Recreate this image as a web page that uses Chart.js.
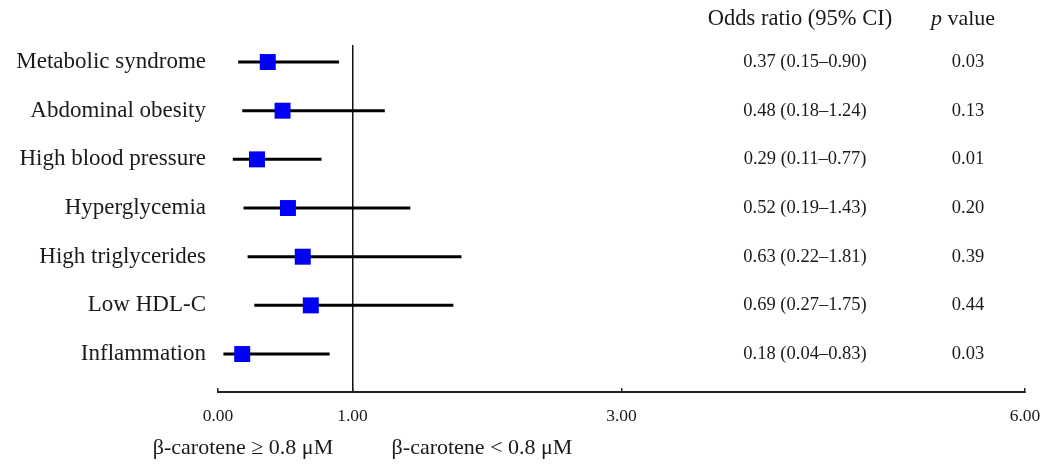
<!DOCTYPE html>
<html>
<head>
<meta charset="utf-8">
<script src="https://cdn.jsdelivr.net/npm/chart.js@4.4.1/dist/chart.umd.min.js"></script>
<style>
  html, body { margin: 0; padding: 0; background: #fff; }
  #wrap { width: 1046px; height: 464px; position: relative; }
</style>
</head>
<body>
<div id="wrap"><canvas id="forest" width="1046" height="464"></canvas></div>
<script>
// Forest plot: odds ratios of metabolic outcomes, beta-carotene groups.

const CATEGORIES = [
  "Metabolic syndrome",
  "Abdominal obesity",
  "High blood pressure",
  "Hyperglycemia",
  "High triglycerides",
  "Low HDL-C",
  "Inflammation",
];
const OR_VALUES = [0.37, 0.48, 0.29, 0.52, 0.63, 0.69, 0.18];
const CI_LOW    = [0.15, 0.18, 0.11, 0.19, 0.22, 0.27, 0.04];
const CI_HIGH   = [0.90, 1.24, 0.77, 1.43, 1.81, 1.75, 0.83];
const P_VALUES  = ["0.03", "0.13", "0.01", "0.20", "0.39", "0.44", "0.03"];
const X_TICKS   = [0, 1, 3, 6];
const GROUP_LABELS = ["β-carotene ≥ 0.8 μM", "β-carotene < 0.8 μM"];

const SERIF = "'Liberation Serif', 'Times New Roman', serif";
const INK = "#1a1a1a";
const BLUE = "#0000f5";

// one black segment per row for the CI
const ciSets = CATEGORIES.map((c, i) => ({
  type: "line",
  label: c,
  data: [{ x: CI_LOW[i], y: i }, { x: CI_HIGH[i], y: i }],
  borderColor: "#000",
  borderWidth: 3,
  pointRadius: 0,
  order: 2,
}));

const orSet = {
  type: "scatter",
  label: "OR",
  data: OR_VALUES.map((v, i) => ({ x: v, y: i })),
  pointStyle: "rect",
  pointRadius: 11.3,
  pointHoverRadius: 11.3,
  backgroundColor: BLUE,
  borderWidth: 0,
  order: 1,
};

// table on the right + group labels under the axis
const tablePlugin = {
  id: "tableText",
  afterDraw(chart) {
    const { ctx, scales } = chart;
    const y = scales.y;
    ctx.save();
    ctx.fillStyle = INK;
    ctx.textBaseline = "middle";
    ctx.textAlign = "center";

    // headers
    ctx.font = "22.5px " + SERIF;
    ctx.fillText("Odds ratio (95% CI)", 800, 19);
    ctx.font = "italic 22px " + SERIF;
    const pW = ctx.measureText("p").width;
    ctx.font = "22px " + SERIF;
    const vW = ctx.measureText(" value").width;
    const start = 963 - (pW + vW) / 2;
    ctx.textAlign = "left";
    ctx.font = "italic 22px " + SERIF;
    ctx.fillText("p", start, 19);
    ctx.font = "22px " + SERIF;
    ctx.fillText(" value", start + pW, 19);

    // rows
    ctx.textAlign = "center";
    ctx.font = "18.5px " + SERIF;
    CATEGORIES.forEach((c, i) => {
      const py = y.getPixelForValue(i);
      const txt = OR_VALUES[i].toFixed(2) + " (" + CI_LOW[i].toFixed(2) + "–" + CI_HIGH[i].toFixed(2) + ")";
      ctx.fillText(txt, 805, py);
      ctx.fillText(P_VALUES[i], 968, py);
    });

    // group labels under the axis
    ctx.font = "22px " + SERIF;
    ctx.fillText(GROUP_LABELS[0], 243, 448);
    ctx.fillText(GROUP_LABELS[1], 482, 448);
    ctx.restore();
  },
};

new Chart(document.getElementById("forest"), {
  data: { datasets: [orSet, ...ciSets] },
  options: {
    responsive: false,
    animation: false,
    events: [],
    layout: { padding: { top: 45, right: 21, bottom: 0, left: 0 } },
    plugins: {
      legend: { display: false },
      tooltip: { enabled: false },
    },
    scales: {
      x: {
        type: "linear",
        position: "bottom",
        min: 0,
        max: 6,
        afterBuildTicks: (s) => { s.ticks = X_TICKS.map(v => ({ value: v })); },
        afterFit: (s) => { s.height = 72; s.paddingLeft = 0; s.paddingRight = 0; },
        ticks: {
          callback: (v) => Number(v).toFixed(2),
          font: { family: SERIF, size: 17.5 },
          color: INK,
          padding: 18,
          maxRotation: 0,
          autoSkip: false,
        },
        grid: {
          drawOnChartArea: true,
          color: (ctx) => (ctx.tick && ctx.tick.value === 1) ? "#111" : "rgba(0,0,0,0)",
          lineWidth: 1.5,
          tickColor: "#222",
          tickLength: -4,
          tickWidth: 1.5,
        },
        border: { display: true, color: "#222", width: 2 },
      },
      y: {
        type: "linear",
        position: "left",
        reverse: true,
        min: -0.35,
        max: 6.78,
        afterBuildTicks: (s) => { s.ticks = CATEGORIES.map((c, i) => ({ value: i })); },
        afterFit: (s) => { s.width = 218; },
        ticks: {
          callback: (v) => CATEGORIES[v] ?? "",
          font: { family: SERIF, size: 23 },
          color: INK,
          padding: 12,
          autoSkip: false,
        },
        grid: { display: false, drawTicks: false },
        border: { display: false },
      },
    },
  },
  plugins: [tablePlugin],
});
</script>
</body>
</html>
